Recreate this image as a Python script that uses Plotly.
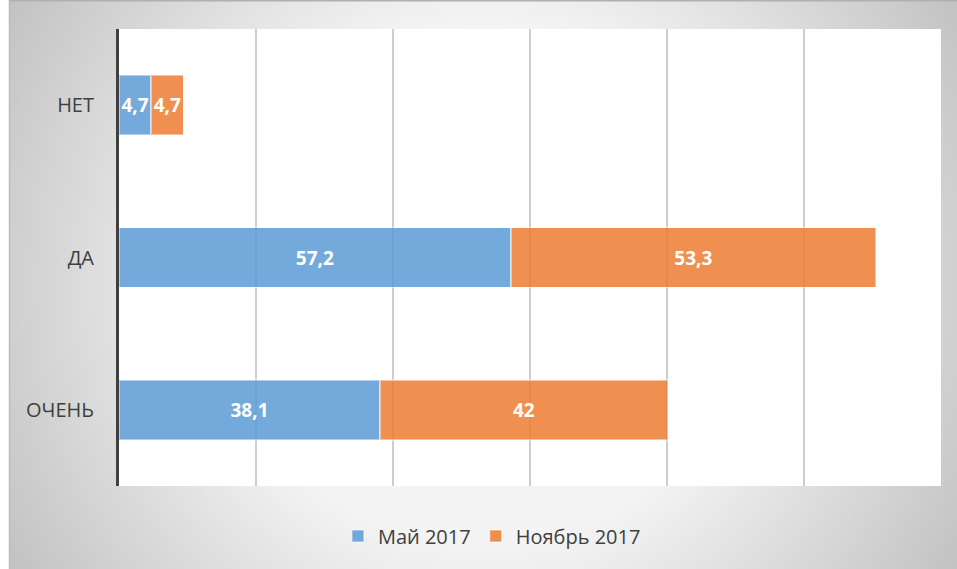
import math, zlib, struct, base64
import plotly.graph_objects as go

# ---- data ----
categories = ["ОЧЕНЬ", "ДА", "НЕТ"]
may_2017 = [38.1, 57.2, 4.7]
nov_2017 = [42, 53.3, 4.7]
series_names = ["Май 2017", "Ноябрь 2017"]

def fmt(v):
    s = ("%g" % v)
    return s.replace(".", ",")

W, H = 957, 569
L, R, T, B = 119, 16, 29, 83
PW, PH = W - L - R, H - T - B

def px_to_paper_x(px):
    return (px - L) / PW

def px_to_paper_y(py):
    return (H - B - py) / PH

# ---- background gradient image (styling only) ----
def make_png(w, h, rows):
    raw = b"".join(b"\x00" + bytes(r) for r in rows)
    def chunk(t, d):
        c = struct.pack(">I", len(d)) + t + d
        return c + struct.pack(">I", zlib.crc32(t + d) & 0xffffffff)
    return (b"\x89PNG\r\n\x1a\n"
            + chunk(b"IHDR", struct.pack(">IIBBBBB", w, h, 8, 0, 0, 0, 0))
            + chunk(b"IDAT", zlib.compress(raw, 9))
            + chunk(b"IEND", b""))

gx0, gx1, gy0, gy1 = 10, W, 0, H
gw, gh = 190, 114
cx, cy = (gx0 + gx1) / 2, (gy0 + gy1) / 2
rows = []
for j in range(gh):
    py = gy0 + (j + 0.5) * (gy1 - gy0) / gh
    row = []
    for i in range(gw):
        pxx = gx0 + (i + 0.5) * (gx1 - gx0) / gw
        d = math.hypot(pxx - cx, py - cy)
        v = 240 - 0.17 * (d - 284)
        v = max(190, min(244, v))
        row.append(int(round(v)))
    rows.append(row)
src = "data:image/png;base64," + base64.b64encode(make_png(gw, gh, rows)).decode()

label_font = dict(color="white", size=19, family="Open Sans", weight="bold")

fig = go.Figure()
fig.add_trace(go.Bar(
    y=categories, x=may_2017, name=series_names[0], orientation="h",
    marker=dict(color="rgba(91,155,213,0.85)", line=dict(color="rgba(255,255,255,0.45)", width=1.5)),
    text=[fmt(v) for v in may_2017], textposition="inside", insidetextanchor="middle",
    textangle=0, textfont=label_font, constraintext="none", hoverinfo="skip",
))
fig.add_trace(go.Bar(
    y=categories, x=nov_2017, name=series_names[1], orientation="h",
    marker=dict(color="rgba(237,125,49,0.85)", line=dict(color="rgba(255,255,255,0.45)", width=1.5)),
    text=[fmt(v) for v in nov_2017], textposition="inside", insidetextanchor="middle",
    textangle=0, textfont=label_font, constraintext="none", hoverinfo="skip",
))

fig.update_layout(
    width=W, height=H,
    margin=dict(l=L, r=R, t=T, b=B, pad=0),
    barmode="stack", bargap=0.607,
    paper_bgcolor="white", plot_bgcolor="white",
    font=dict(family="Open Sans", color="#404040"),
    showlegend=True,
    legend=dict(orientation="h", xref="container", yref="container",
                x=0.514, y=0.058, xanchor="center", yanchor="middle",
                font=dict(size=20, color="#404040"), bgcolor="rgba(0,0,0,0)",
                traceorder="normal"),
    xaxis=dict(range=[0, 120], tick0=0, dtick=20, showgrid=True,
               gridcolor="#cdcdcd", gridwidth=1.5, showticklabels=False,
               zeroline=False, ticks="", showline=False, fixedrange=True),
    yaxis=dict(showline=True, linecolor="#404040", linewidth=3, ticks="",
               showgrid=False, zeroline=False, ticklabelstandoff=18,
               tickfont=dict(size=20, color="#404040"), fixedrange=True),
    images=[dict(source=src, xref="paper", yref="paper",
                 x=px_to_paper_x(gx0), y=px_to_paper_y(gy0),
                 sizex=(gx1 - gx0) / PW, sizey=(gy1 - gy0) / PH,
                 xanchor="left", yanchor="top", sizing="stretch", layer="below")],
    shapes=[
        dict(type="rect", xref="paper", yref="paper", x0=0, x1=1, y0=0, y1=1,
             fillcolor="white", line=dict(width=0), layer="below"),
        dict(type="line", xref="paper", yref="paper",
             x0=px_to_paper_x(9.5), x1=px_to_paper_x(9.5), y0=px_to_paper_y(0), y1=px_to_paper_y(H),
             line=dict(color="#bdbdbd", width=1.5), layer="below"),
        dict(type="line", xref="paper", yref="paper",
             x0=px_to_paper_x(9), x1=px_to_paper_x(W), y0=px_to_paper_y(0.75), y1=px_to_paper_y(0.75),
             line=dict(color="#b0b0b0", width=1.5), layer="below"),
    ],
)

fig.write_html("out.html",
               config={"displayModeBar": False, "staticPlot": True},
               post_script="document.body.style.margin='0';document.body.style.overflow='hidden';")
